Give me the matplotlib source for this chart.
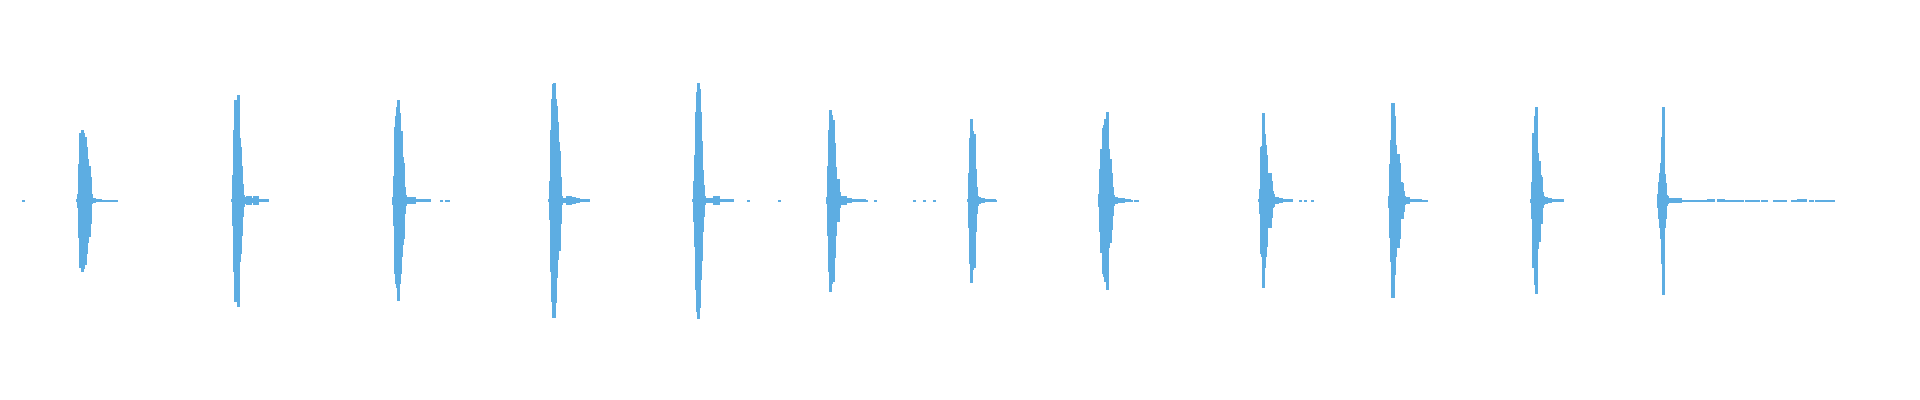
import numpy as np
import matplotlib
matplotlib.use("Agg")
import matplotlib.pyplot as plt

wave_color = "#5DADE2"

# click onsets (sample column) and per-column peak envelopes (upper, lower)
onsets = [76, 231, 392, 548, 692, 826, 967, 1098, 1258, 1388, 1530, 1657]

env_top = [
    [1, 6, 36, 67, 64, 70, 67, 63, 63, 53, 41, 30, 34, 23, 6],
    [1, 25, 70, 100, 83, 100, 105, 62, 53, 34, 16, 5],
    [3, 24, 73, 84, 93, 100, 87, 69, 69, 43, 37, 13, 5],
    [1, 19, 70, 101, 116, 117, 101, 94, 78, 58, 49, 23, 4],
    [1, 19, 45, 88, 108, 117, 111, 88, 59, 30, 15, 4],
    [3, 34, 70, 90, 85, 80, 80, 57, 33, 11, 17, 21, 8],
    [1, 27, 62, 81, 69, 50, 66, 31, 13, 4],
    [6, 31, 51, 51, 72, 75, 81, 76, 88, 51, 27, 41, 27, 13, 5],
    [1, 11, 53, 54, 87, 66, 55, 45, 27, 27, 16, 27, 19, 9, 6],
    [4, 36, 60, 97, 97, 84, 55, 37, 37, 46, 37, 16, 18, 17, 9, 4],
    [1, 18, 67, 34, 84, 93, 47, 23, 39, 25, 23, 8, 4],
    [6, 18, 27, 37, 63, 93, 26, 17, 5, 4],
]

env_bot = [
    [1, 7, 37, 67, 65, 71, 68, 64, 64, 53, 42, 31, 36, 23, 3],
    [1, 25, 71, 101, 83, 101, 106, 61, 53, 35, 16, 6],
    [4, 25, 73, 83, 87, 100, 83, 73, 56, 44, 38, 13, 5],
    [1, 19, 71, 101, 117, 117, 102, 77, 59, 50, 50, 23, 4],
    [1, 21, 46, 89, 111, 118, 107, 79, 60, 31, 16, 4],
    [3, 35, 71, 91, 83, 75, 81, 57, 35, 11, 17, 21, 7],
    [1, 27, 63, 82, 69, 51, 67, 31, 13, 5],
    [6, 31, 52, 52, 73, 76, 81, 73, 89, 47, 29, 42, 29, 15, 5],
    [1, 13, 53, 56, 87, 67, 56, 46, 27, 19, 18, 27, 17, 7, 6],
    [7, 37, 61, 97, 97, 74, 56, 38, 38, 47, 38, 15, 17, 18, 11, 4],
    [2, 18, 67, 36, 84, 93, 48, 24, 41, 23, 23, 7, 4],
    [7, 18, 27, 38, 63, 94, 27, 18, 5, 3],
]

# low-level ringing after each click: (start, end, level)
tails = [
    (91, 94, 2), (94, 100, 1), (100, 109, 0.5),
    (243, 246, 3), (246, 250, 4), (250, 253, 2), (253, 257, 4), (257, 267, 1),
    (405, 414, 3), (414, 429, 1),
    (561, 566, 2), (566, 570, 4), (570, 574, 3), (574, 578, 2), (578, 588, 1),
    (704, 713, 2), (713, 718, 4), (718, 732, 1),
    (839, 845, 4), (845, 850, 2), (850, 864, 1),
    (977, 979, 3), (979, 983, 2), (983, 994, 1),
    (1113, 1116, 3), (1116, 1123, 2), (1123, 1129, 1),
    (1273, 1277, 3), (1277, 1281, 2), (1281, 1291, 1),
    (1404, 1408, 3), (1408, 1420, 1), (1420, 1426, 0.5),
    (1543, 1546, 3), (1546, 1550, 2), (1550, 1562, 1),
    (1667, 1680, 2), (1680, 1705, 0.5),
    (1707, 1713, 1), (1717, 1723, 1), (1725, 1742, 0.5), (1745, 1750, 0.5),
    (1752, 1758, 0.5), (1761, 1766, 0.5), (1773, 1777, 0.5), (1779, 1785, 0.5),
    (1791, 1795, 0.5), (1797, 1805, 1), (1809, 1812, 0.5), (1815, 1821, 0.5),
    (1823, 1825, 0.5), (1827, 1833, 0.5),
]

# isolated single-sample blips
blips = [22, 110, 112, 115, 440, 445, 447, 747, 778, 865, 874, 913, 923, 933,
         994, 1130, 1134, 1136, 1299, 1304, 1311]

fig = plt.figure(figsize=(19.2, 4), dpi=100)
ax = fig.add_axes([0, 0, 1, 1])

for onset, top, bot in zip(onsets, env_top, env_bot):
    xs = onset + np.arange(len(top)) + 0.5
    ax.vlines(xs, -np.array(bot), np.array(top), color=wave_color,
              linewidth=1.0, antialiased=False)

for x0, x1, lev in tails:
    xs = np.arange(x0, x1) + 0.5
    ax.vlines(xs, -lev, lev, color=wave_color, linewidth=1.0, antialiased=False)

ax.vlines(np.array(blips) + 0.5, -0.5, 0.5, color=wave_color,
          linewidth=1.0, antialiased=False)

ax.set_xlim(0, 1920)
ax.set_ylim(-200, 200)
ax.axis("off")
fig.savefig("out.png", dpi=100, facecolor="white")
